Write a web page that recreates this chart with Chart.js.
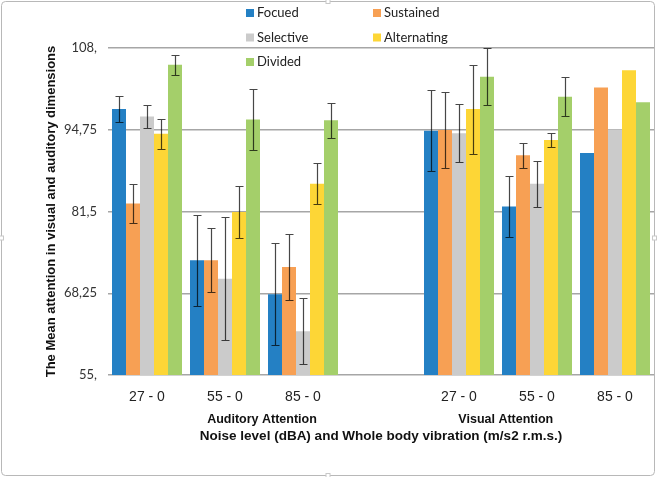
<!DOCTYPE html>
<html>
<head>
<meta charset="utf-8">
<script src="https://cdn.jsdelivr.net/npm/chart.js@4"></script>
<style>
  body { margin: 0; background: #fff; }
  canvas { display: block; }
</style>
</head>
<body>
<canvas id="chart" width="657" height="477"></canvas>
<script>
const categories = ['27 - 0', '55 - 0', '85 - 0', '', '27 - 0', '55 - 0', '85 - 0']
const groupNames = ['Auditory Attention', 'Visual Attention']
const yTickLabels = ['55,', '68,25', '81,5', '94,75', '108,']

const focued = [98.1, 73.6, 68.1, null, 94.6, 82.3, 91.0]
const focuedErr = [2.1, 7.4, 8.3, null, 6.6, 4.9, null]
const sustained = [82.8, 73.6, 72.5, null, 94.7, 90.6, 101.6]
const sustainedErr = [3.2, 5.2, 5.3, null, 6.2, 2.05, null]
const selective = [96.9, 70.6, 62.1, null, 94.2, 86.0, 94.8]
const selectiveErr = [1.8, 10.0, 5.35, null, 4.75, 3.7, null]
const alternating = [94.1, 81.4, 86.0, null, 98.1, 93.1, 104.4]
const alternatingErr = [2.4, 4.2, 3.35, null, 7.2, 1.2, null]
const divided = [105.3, 96.4, 96.3, null, 103.35, 100.1, 99.2]
const dividedErr = [1.6, 4.9, 2.85, null, 4.6, 3.2, null]

const ctx = document.querySelector('#chart')

// whiskers drawn on top of the bars
const errorBars = {
    id: 'errorBars',
    afterDatasetsDraw(chart) {
        const c = chart.ctx
        const y = chart.scales.y
        c.save()
        c.strokeStyle = 'rgba(0,0,0,0.72)'
        c.lineWidth = 1.2
        chart.data.datasets.forEach((ds, i) => {
            chart.getDatasetMeta(i).data.forEach((bar, j) => {
                const e = ds.errors[j]
                if (e == null || ds.data[j] == null) return
                const top = Math.round(y.getPixelForValue(ds.data[j] + e)) + 0.5
                const bot = Math.round(y.getPixelForValue(ds.data[j] - e)) + 0.5
                const x = Math.round(bar.x) + 0.5
                c.beginPath()
                c.moveTo(x, top); c.lineTo(x, bot)
                c.moveTo(x - 4, top); c.lineTo(x + 4, top)
                c.moveTo(x - 4, bot); c.lineTo(x + 4, bot)
                c.stroke()
            })
        })
        c.restore()
    }
}

// legend in two columns, group names under the ticks, outer frame
const extras = {
    id: 'extras',
    afterDraw(chart) {
        const c = chart.ctx
        c.save()
        c.font = '13px Lato'
        c.textBaseline = 'middle'
        chart.data.datasets.forEach((ds, i) => {
            const lx = i % 2 === 0 ? 246 : 373
            const ly = 13 + Math.floor(i / 2) * 24.5
            c.fillStyle = ds.backgroundColor
            c.fillRect(lx, ly - 4, 8, 8)
            c.fillStyle = '#222'
            c.textAlign = 'left'
            c.fillText(ds.label, lx + 11, ly)
        })

        const x = chart.scales.x
        c.font = 'bold 12.5px "Liberation Sans"'
        c.fillStyle = '#111'
        c.textAlign = 'center'
        c.fillText(groupNames[0], x.getPixelForValue(1.5) - 2, 420)
        c.fillText(groupNames[1], x.getPixelForValue(4.6), 420)

        c.strokeStyle = '#b8b8b8'
        c.lineWidth = 1
        c.beginPath()
        c.roundRect(1.5, 1.5, 653, 474, 4)
        c.stroke()
        c.fillStyle = '#fff'
        c.strokeStyle = '#c8c8c8'
        ;[[328, 1.5], [328, 475.5], [1.5, 238], [654.5, 238]].forEach(([hx, hy]) => {
            c.fillRect(hx - 2, hy - 2, 4, 4)
            c.strokeRect(hx - 2, hy - 2, 4, 4)
        })
        c.restore()
    }
}

function series(label, data, errors, color) {
    return {
        label: label,
        data: data,
        errors: errors,
        backgroundColor: color,
        borderWidth: 0,
        barPercentage: 1,
        categoryPercentage: 70 / 78,
    }
}

const chart = new Chart(ctx, {
    type: 'bar',
    data: {
        labels: categories,
        datasets: [
            series('Focued', focued, focuedErr, '#2480c4'),
            series('Sustained', sustained, sustainedErr, '#f7a054'),
            series('Selective', selective, selectiveErr, '#cbcbcb'),
            series('Alternating', alternating, alternatingErr, '#fdd636'),
            series('Divided', divided, dividedErr, '#a4cf6a'),
        ],
    },
    options: {
        responsive: false,
        animation: false,
        layout: {
            padding: { top: 48, right: 3, left: 0, bottom: 0 },
        },
        plugins: {
            legend: { display: false },
            tooltip: { enabled: false },
        },
        scales: {
            x: {
                grid: { display: false },
                border: { display: false },
                ticks: {
                    font: { family: 'Liberation Sans', size: 14 },
                    color: '#222',
                    padding: 6,
                    maxRotation: 0,
                    autoSkip: false,
                },
                title: {
                    display: true,
                    text: 'Noise level (dBA) and Whole body vibration (m/s2 r.m.s.)',
                    font: { family: 'Liberation Sans', size: 13.5, weight: 'bold' },
                    color: '#111',
                    padding: { top: 0, bottom: 33 },
                },
                afterFit: (s) => { s.height = 102 },
            },
            y: {
                min: 55,
                max: 108,
                ticks: {
                    stepSize: 13.25,
                    font: { family: 'Lato', size: 13 },
                    color: '#333',
                    padding: 11,
                    callback: (v, i) => yTickLabels[i],
                },
                grid: {
                    color: '#a6a6a6',
                    lineWidth: 1.5,
                    drawTicks: false,
                },
                border: { display: false },
                title: {
                    display: true,
                    text: 'The Mean attention in visual and auditory dimensions',
                    font: { family: 'Liberation Sans', size: 13, weight: 'bold' },
                    color: '#111',
                    padding: { top: 44, bottom: 0 },
                },
                afterFit: (s) => { s.width = 108 },
            },
        },
    },
    plugins: [errorBars, extras],
});
</script>
</body>
</html>
